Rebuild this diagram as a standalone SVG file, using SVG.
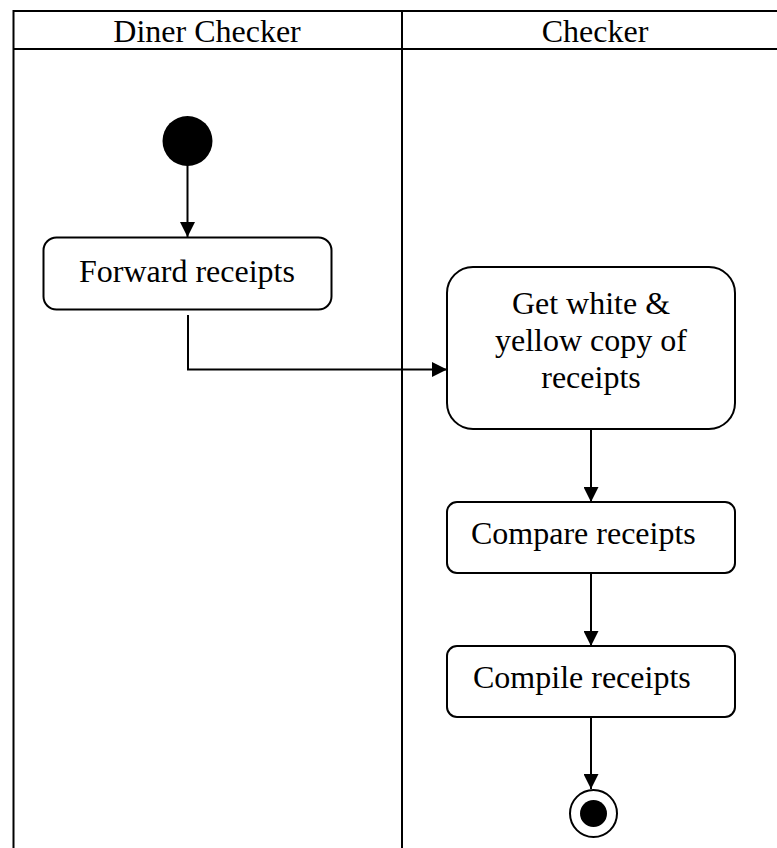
<svg xmlns="http://www.w3.org/2000/svg" width="777" height="848" viewBox="0 0 777 848">
  <style>
    .lane { fill: none; stroke: #000; stroke-width: 2; }
    .node { fill: #fff; stroke: #000; stroke-width: 2; }
    .label { font-family: "Liberation Serif", "Times New Roman", serif; font-size: 32px; fill: #000; }
    .mid { text-anchor: middle; }
    .flow { fill: none; stroke: #000; stroke-width: 2; }
  </style>
  <defs>
    <marker id="arrow" viewBox="0 0 15 15" refX="15" refY="7.5" markerWidth="15" markerHeight="15" markerUnits="userSpaceOnUse" orient="auto">
      <path d="M0,0 L15,7.5 L0,15 Z" fill="#000"/>
    </marker>
  </defs>

  <rect width="777" height="848" fill="#fff"/>

  <!-- swimlane table -->
  <g id="lanes">
    <rect class="lane" x="13.5" y="11" width="790" height="860"/>
    <line class="lane" x1="13.5" y1="49" x2="790" y2="49"/>
    <line class="lane" x1="402" y1="11" x2="402" y2="860"/>
    <text class="label mid" x="207" y="42">Diner Checker</text>
    <text class="label mid" x="595" y="42">Checker</text>
  </g>

  <!-- connectors -->
  <g id="connectors">
    <line class="flow" x1="187.5" y1="165" x2="187.5" y2="237" marker-end="url(#arrow)"/>
    <polyline class="flow" points="188,315 188,369.5 447,369.5" marker-end="url(#arrow)"/>
    <line class="flow" x1="591" y1="430" x2="591" y2="502" marker-end="url(#arrow)"/>
    <line class="flow" x1="591" y1="573" x2="591" y2="646" marker-end="url(#arrow)"/>
    <line class="flow" x1="591" y1="717" x2="591" y2="789" marker-end="url(#arrow)"/>
  </g>

  <g id="start">
    <circle cx="187.5" cy="141" r="25" fill="#000"/>
  </g>

  <g id="forward-receipts">
    <rect class="node" x="43.5" y="237.5" width="288" height="72" rx="13"/>
    <text class="label mid" x="187" y="282">Forward receipts</text>
  </g>

  <g id="get-copies">
    <rect class="node" x="447" y="267" width="288" height="162" rx="26"/>
    <text class="label mid" x="591" y="314">Get white &amp;</text>
    <text class="label mid" x="591" y="351">yellow copy of</text>
    <text class="label mid" x="591" y="388">receipts</text>
  </g>

  <g id="compare-receipts">
    <rect class="node" x="447" y="502" width="288" height="71" rx="10"/>
    <text class="label" x="471" y="544">Compare receipts</text>
  </g>

  <g id="compile-receipts">
    <rect class="node" x="447" y="646" width="288" height="71" rx="10"/>
    <text class="label" x="473" y="688">Compile receipts</text>
  </g>

  <g id="end">
    <circle cx="593.5" cy="813.5" r="23.5" fill="#fff" stroke="#000" stroke-width="2"/>
    <circle cx="593.5" cy="813.5" r="13.5" fill="#000"/>
  </g>
</svg>
